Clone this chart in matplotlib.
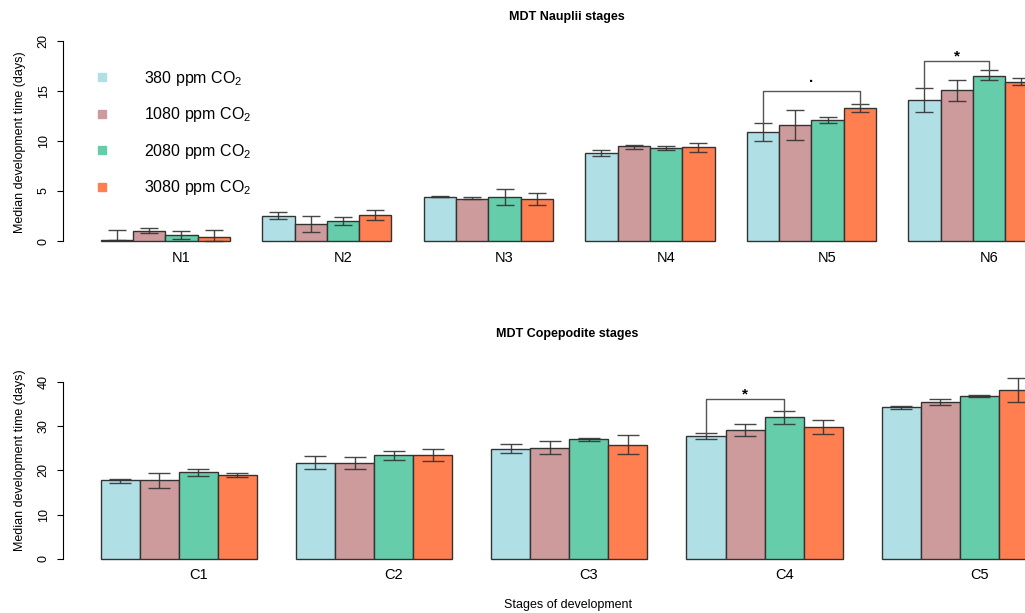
import numpy as np
import matplotlib.pyplot as plt
from matplotlib.lines import Line2D

plt.rcParams['font.family'] = 'Liberation Sans'
plt.rcParams['mathtext.fontset'] = 'custom'
plt.rcParams['mathtext.rm'] = 'Liberation Sans'
plt.rcParams['mathtext.it'] = 'Liberation Sans:italic'
plt.rcParams['mathtext.bf'] = 'Liberation Sans:bold'

# ---- data (median development time, days) ----
treatments = ['380 ppm CO$_2$', '1080 ppm CO$_2$', '2080 ppm CO$_2$', '3080 ppm CO$_2$']
colors = ['#B0E0E6', '#CD9B9B', '#66CDAA', '#FF7F50']

naup_stages = ['N1', 'N2', 'N3', 'N4', 'N5', 'N6']
naup_380 = [0.15, 2.55, 4.43, 8.77, 10.90, 14.07]
naup_1080 = [1.00, 1.73, 4.23, 9.47, 11.57, 15.10]
naup_2080 = [0.57, 1.97, 4.37, 9.27, 12.13, 16.53]
naup_3080 = [0.37, 2.57, 4.17, 9.37, 13.33, 15.93]
naup_lo_380 = [0.15, 2.17, 4.40, 8.47, 10.03, 12.87]
naup_hi_380 = [1.10, 2.87, 4.46, 9.07, 11.77, 15.27]
naup_lo_1080 = [0.77, 0.93, 4.20, 9.17, 10.10, 13.97]
naup_hi_1080 = [1.27, 2.47, 4.40, 9.63, 13.07, 16.07]
naup_lo_2080 = [0.20, 1.57, 3.60, 9.07, 11.77, 16.07]
naup_hi_2080 = [1.00, 2.37, 5.17, 9.53, 12.37, 17.07]
naup_lo_3080 = [0.00, 2.07, 3.60, 8.87, 12.87, 15.57]
naup_hi_3080 = [1.13, 3.07, 4.83, 9.83, 13.73, 16.27]

cope_stages = ['C1', 'C2', 'C3', 'C4', 'C5']
cope_380 = [17.77, 21.61, 24.85, 27.71, 34.26]
cope_1080 = [17.77, 21.61, 25.08, 29.14, 35.47]
cope_2080 = [19.58, 23.42, 27.03, 32.00, 36.82]
cope_3080 = [18.98, 23.49, 25.75, 29.74, 38.18]
cope_lo_380 = [17.24, 20.26, 23.95, 27.11, 33.96]
cope_hi_380 = [18.07, 23.19, 25.90, 28.54, 34.64]
cope_lo_1080 = [15.96, 20.33, 23.64, 27.71, 34.86]
cope_hi_1080 = [19.35, 22.97, 26.58, 30.42, 36.22]
cope_lo_2080 = [18.83, 22.44, 26.58, 30.42, 36.67]
cope_hi_2080 = [20.33, 24.32, 27.26, 33.43, 37.12]
cope_lo_3080 = [18.45, 22.06, 23.64, 28.16, 35.47]
cope_hi_3080 = [19.50, 24.92, 27.94, 31.33, 40.81]

# significance brackets: (stage index, first treatment, last treatment, bracket height, label)
naup_sig = [(4, 0, 3, 14.97, '.'), (5, 0, 2, 17.97, '*')]
cope_sig = [(3, 0, 2, 36.07, '*')]

W, H = 1025, 613
fig = plt.figure(figsize=(W / 100, H / 100), dpi=100)


def px_axes(x0, x1, y0, y1):
    return fig.add_axes([x0 / W, 1 - y1 / H, (x1 - x0) / W, (y1 - y0) / H])


def draw_panel(ax, stages, means, lo, hi, sig, ymax, capsize):
    n = len(stages)
    means = np.array(means)
    lo = np.array(lo)
    hi = np.array(hi)
    for t in range(4):
        x = 1.5 + 5 * np.arange(n) + t
        ax.bar(x, means[t], width=1, color=colors[t], edgecolor='#333333',
               linewidth=1, zorder=2)
        ax.errorbar(x, means[t], yerr=[means[t] - lo[t], hi[t] - means[t]],
                    fmt='none', ecolor='#333333', elinewidth=1, capsize=capsize,
                    capthick=1, zorder=3, alpha=0.9)
    for g, t0, t1, top, lab in sig:
        x0 = 1.5 + 5 * g + t0
        x1 = 1.5 + 5 * g + t1
        ax.plot([x0, x0, x1, x1], [hi[t0][g], top, top, hi[t1][g]],
                color='#555555', lw=1, zorder=4)
        off = 7 if lab == '.' else 0.5
        ax.annotate(lab, ((x0 + x1) / 2, top), xytext=(0, off),
                    textcoords='offset points', ha='center', va='baseline',
                    fontsize=11, fontweight='bold')
    ax.set_xticks(3.5 + 5 * np.arange(n))
    ax.set_xticklabels(stages, fontsize=10.5)
    ax.tick_params(axis='x', length=0, pad=1)
    ax.set_yticks(np.linspace(0, ymax, 5))
    ax.tick_params(axis='y', length=4.5, width=0.8, pad=5, labelsize=9,
                   labelrotation=90)
    for lab in ax.get_yticklabels():
        lab.set_va('center')
    for s in ['top', 'right', 'bottom']:
        ax.spines[s].set_visible(False)
    ax.spines['left'].set_bounds(0, ymax)
    ax.spines['left'].set_linewidth(0.8)


# top panel: nauplii
ax1 = px_axes(63, 1045, 30, 250)
ax1.set_xlim(-0.167, 30.23)
ax1.set_ylim(-0.9, 21.1)
draw_panel(ax1, naup_stages,
           [naup_380, naup_1080, naup_2080, naup_3080],
           [naup_lo_380, naup_lo_1080, naup_lo_2080, naup_lo_3080],
           [naup_hi_380, naup_hi_1080, naup_hi_2080, naup_hi_3080],
           naup_sig, 20, 6.2)

# bottom panel: copepodites
ax2 = px_axes(63, 1045, 370, 567)
ax2.set_xlim(0.036, 25.18)
ax2.set_ylim(-1.81, 42.71)
draw_panel(ax2, cope_stages,
           [cope_380, cope_1080, cope_2080, cope_3080],
           [cope_lo_380, cope_lo_1080, cope_lo_2080, cope_lo_3080],
           [cope_hi_380, cope_hi_1080, cope_hi_2080, cope_hi_3080],
           cope_sig, 40, 7.8)

handles = [Line2D([], [], marker='s', ls='', color=c, markersize=5.5) for c in colors]
ax1.legend(handles, treatments, loc='upper left',
           bbox_to_anchor=(94 / W, 1 - 69 / H), bbox_transform=fig.transFigure,
           frameon=False, fontsize=11.5, handlelength=1, handletextpad=2.1,
           labelspacing=1.09, borderpad=0, borderaxespad=0)

fig.text(567 / W, 1 - 17 / H, 'MDT Nauplii stages', ha='center', va='center',
         fontsize=9, fontweight='bold')
fig.text(567 / W, 1 - 334 / H, 'MDT Copepodite stages', ha='center', va='center',
         fontsize=9, fontweight='bold')
fig.text(20 / W, 1 - 142 / H, 'Median development time (days)', rotation=90,
         ha='center', va='center', fontsize=9)
fig.text(20 / W, 1 - 460 / H, 'Median development time (days)', rotation=90,
         ha='center', va='center', fontsize=9)
fig.text(568 / W, 1 - 605 / H, 'Stages of development', ha='center', va='center',
         fontsize=9)

fig.savefig('out.png', dpi=100)
